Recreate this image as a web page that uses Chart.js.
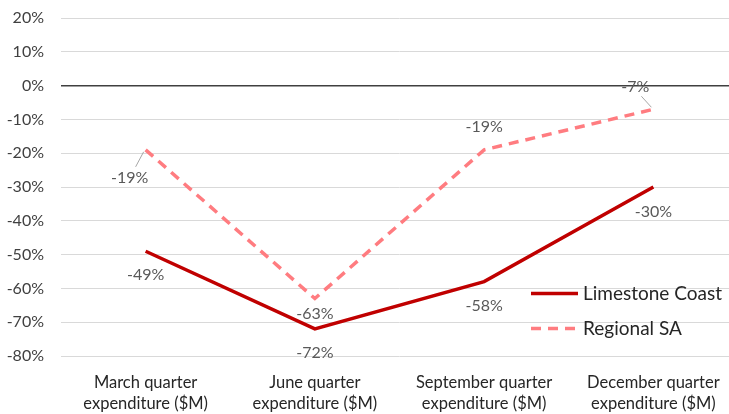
<!DOCTYPE html>
<html>
<head>
<meta charset="utf-8">
<script src="https://cdn.jsdelivr.net/npm/chart.js@4/dist/chart.umd.min.js"></script>
<style>
  html, body { margin: 0; padding: 0; background: #fff; overflow: hidden; }
  #wrap { width: 738px; height: 414px; }
</style>
</head>
<body>
<div id="wrap"><canvas id="quarterChart"></canvas></div>
<script>
// data
const quarters = [
    ['March quarter', 'expenditure ($M)'],
    ['June quarter', 'expenditure ($M)'],
    ['September quarter', 'expenditure ($M)'],
    ['December quarter', 'expenditure ($M)']
];
const limestoneCoast = [-49, -72, -58, -30];
const regionalSA = [-19, -63, -19, -7];
const yTicks = [20, 10, 0, -10, -20, -30, -40, -50, -60, -70, -80];

// where each value label sits relative to its point [dx, dy, leader line]
const labelSpots = [
    [[0, 24, false], [0, 24, false], [0, 24, false], [0, 25, false]],
    [[-16, 28, true], [0, 15, false], [0, -23, false], [-18, -22, true]]
];

const FONT = 'Lato, "Open Sans", sans-serif';

const valueLabels = {
    id: 'valueLabels',
    afterDatasetsDraw(chart) {
        const ctx = chart.ctx;
        ctx.save();
        ctx.font = '16px ' + FONT;
        ctx.fillStyle = '#595959';
        ctx.textAlign = 'center';
        ctx.textBaseline = 'middle';
        chart.data.datasets.forEach((ds, di) => {
            const meta = chart.getDatasetMeta(di);
            meta.data.forEach((pt, i) => {
                const spot = labelSpots[di][i];
                const lx = pt.x + spot[0];
                const ly = pt.y + spot[1];
                if (spot[2]) {
                    ctx.strokeStyle = '#A6A6A6';
                    ctx.lineWidth = 1;
                    ctx.beginPath();
                    ctx.moveTo(pt.x - 2, pt.y + (spot[1] > 0 ? 2 : -2));
                    ctx.lineTo(lx + (spot[0] < 0 ? 6 : -6), ly + (spot[1] > 0 ? -11 : 9));
                    ctx.stroke();
                }
                ctx.fillText(ds.data[i] + '%', lx, ly);
            });
        });
        ctx.restore();
    }
};

const insideLegend = {
    id: 'insideLegend',
    afterDraw(chart) {
        const ctx = chart.ctx;
        ctx.save();
        ctx.font = '19px ' + FONT;
        ctx.fillStyle = '#262626';
        ctx.textBaseline = 'middle';
        ctx.textAlign = 'left';
        const x0 = 531;
        chart.data.datasets.forEach((ds, di) => {
            const y = chart.scales.y.getPixelForValue(-61.5) + di * 35;
            ctx.strokeStyle = ds.borderColor;
            ctx.lineWidth = ds.borderWidth;
            ctx.setLineDash(ds.borderDash || []);
            ctx.beginPath();
            ctx.moveTo(x0, y);
            ctx.lineTo(x0 + 47, y);
            ctx.stroke();
            ctx.setLineDash([]);
            ctx.fillText(ds.label, x0 + 52, y);
        });
        ctx.restore();
    }
};

new Chart(document.getElementById('quarterChart').getContext('2d'), {
    type: 'line',
    data: {
        labels: quarters,
        datasets: [{
            label: 'Limestone Coast',
            data: limestoneCoast,
            borderColor: '#C00000',
            backgroundColor: '#C00000',
            borderWidth: 3.5,
            pointRadius: 0,
            tension: 0
        }, {
            label: 'Regional SA',
            data: regionalSA,
            borderColor: '#FF7C80',
            backgroundColor: '#FF7C80',
            borderWidth: 3.5,
            borderDash: [10, 7],
            pointRadius: 0,
            tension: 0
        }]
    },
    options: {
        responsive: true,
        maintainAspectRatio: false,
        animation: false,
        layout: { padding: { top: 18, right: 0, left: 0, bottom: 0 } },
        plugins: {
            legend: { display: false },
            tooltip: { enabled: false }
        },
        scales: {
            x: {
                offset: true,
                afterFit(scale) { scale.height = 58; },
                grid: { display: false, drawTicks: false },
                border: { display: false },
                ticks: {
                    color: '#262626',
                    font: { family: FONT, size: 16.5, lineHeight: 1.28 },
                    padding: 16,
                    maxRotation: 0
                }
            },
            y: {
                min: -80,
                max: 20,
                afterFit(scale) {
                    scale.width = 61;
                    scale.paddingTop = 0;
                    scale.paddingBottom = 0;
                },
                afterBuildTicks(scale) { scale.ticks = yTicks.map(v => ({ value: v })); },
                grid: {
                    drawTicks: false,
                    color: ctx => ctx.tick && ctx.tick.value === 0 ? '#404040' : '#D9D9D9',
                    lineWidth: ctx => ctx.tick && ctx.tick.value === 0 ? 1.5 : 1
                },
                border: { display: false },
                ticks: {
                    color: '#404040',
                    font: { family: FONT, size: 16 },
                    padding: 17,
                    callback: v => v + '%'
                }
            }
        }
    },
    plugins: [valueLabels, insideLegend]
});
</script>
</body>
</html>
